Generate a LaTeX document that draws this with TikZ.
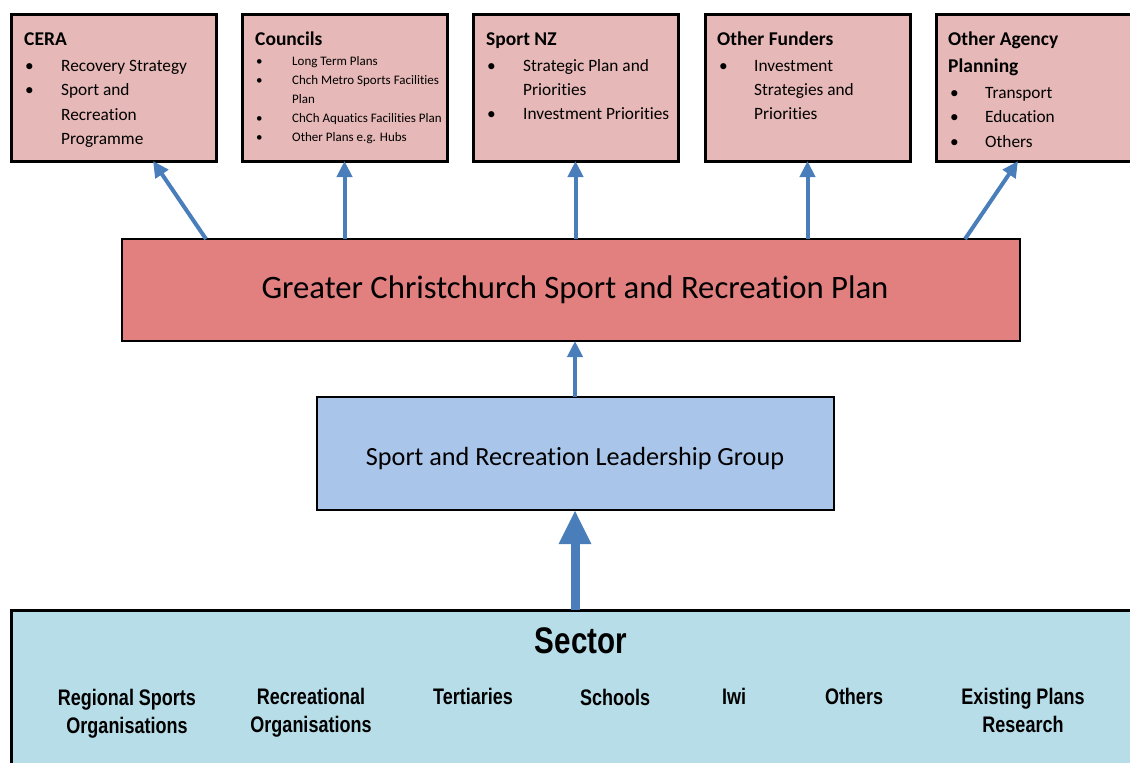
\documentclass[tikz,border=0pt]{standalone}
\usepackage{fontspec}
\setmainfont{Carlito}[Ligatures={NoCommon,NoContextual,NoRare,NoRequired}, RawFeature=-liga, RawFeature=-calt]
\newfontfamily\sectorfont{Liberation Sans}[FakeStretch=0.8]
\usetikzlibrary{arrows.meta}
\definecolor{toppink}{HTML}{E6B8B7}
\definecolor{planred}{HTML}{E27F7F}
\definecolor{leadblue}{HTML}{A9C5EA}
\definecolor{sectblue}{HTML}{B7DDE8}
\definecolor{arrblue}{HTML}{4A7EBB}
\tikzset{
  topbox/.style={draw=black, line width=3pt, fill=toppink, minimum width=205pt, minimum height=147pt, inner sep=0pt, outer sep=0pt, anchor=north west},
  bigbox/.style={draw=black, line width=2.5pt, inner sep=0pt, outer sep=0pt, anchor=north west},
  ttl/.style={anchor=base west, inner sep=0pt, font=\fontsize{19.5}{22}\selectfont\bfseries},
  itm/.style={anchor=base west, inner sep=0pt, font=\fontsize{17.3}{20}\selectfont},
  sitm/.style={anchor=base west, inner sep=0pt, font=\fontsize{13}{15}\selectfont},
  sect/.style={inner sep=0pt, align=center, font=\sectorfont\bfseries\fontsize{22.5}{28}\selectfont},
  arr/.style={draw=arrblue, line width=4pt, -{Triangle[length=16pt,width=15pt]}},
  bigarr/.style={draw=arrblue, line width=9pt, -{Triangle[length=34pt,width=30pt]}}
}
\begin{document}
\begin{tikzpicture}[x=1pt,y=-1pt]
\useasboundingbox (0,0) rectangle (1130,763);
% top boxes
\node[topbox] (cera) at (11,14) {};
\node[topbox] (coun) at (242,14) {};
\node[topbox] (snz) at (473,14) {};
\node[topbox] (fund) at (705,14) {};
\node[topbox, minimum width=210pt] (agen) at (936,14) {};
% CERA
\node[ttl] (t1) at (24,45) {CERA};
\node[itm] (c1b) at (25,71) {•};
\node[itm] (c1) at (61,71) {Recovery Strategy};
\node[itm] (c2b) at (25,95) {•};
\node[itm] (c2) at (61,95) {Sport and};
\node[itm] (c3) at (61,120) {Recreation};
\node[itm] (c4) at (61,144) {Programme};
% Councils
\node[ttl] (t2) at (255,45) {Councils};
\node[sitm] (k1b) at (256,65) {•};
\node[sitm] (k1) at (292,65) {Long Term Plans};
\node[sitm] (k2b) at (256,84) {•};
\node[sitm] (k2) at (292,84) {Chch Metro Sports Facilities};
\node[sitm] (k3) at (292,103) {Plan};
\node[sitm] (k4b) at (256,122) {•};
\node[sitm] (k4) at (292,122) {ChCh Aquatics Facilities Plan};
\node[sitm] (k5b) at (256,141) {•};
\node[sitm] (k5) at (292,141) {Other Plans e.g. Hubs};
% Sport NZ
\node[ttl] (t3) at (486,45) {Sport NZ};
\node[itm] (s1b) at (487,71) {•};
\node[itm] (s1) at (523,71) {Strategic Plan and};
\node[itm] (s2) at (523,95) {Priorities};
\node[itm] (s3b) at (487,119) {•};
\node[itm] (s3) at (523,119) {Investment Priorities};
% Other Funders
\node[ttl] (t4) at (717,45) {Other Funders};
\node[itm] (f1b) at (719,71) {•};
\node[itm] (f1) at (754,71) {Investment};
\node[itm] (f2) at (754,95) {Strategies and};
\node[itm] (f3) at (754,119) {Priorities};
% Other Agency
\node[ttl] (t5) at (948,45) {Other Agency};
\node[ttl] (t5b) at (948,72) {Planning};
\node[itm] (a1b) at (950,98) {•};
\node[itm] (a1) at (985,98) {Transport};
\node[itm] (a2b) at (950,122) {•};
\node[itm] (a2) at (985,122) {Education};
\node[itm] (a3b) at (950,147) {•};
\node[itm] (a3) at (985,147) {Others};
% plan box
\node[bigbox, fill=planred, minimum width=898pt, minimum height=102pt] (plan) at (122,239) {};
\node[inner sep=0pt, font=\fontsize{32.7}{38}\selectfont] (plant) at (575,290) {Greater Christchurch Sport and Recreation Plan};
% leadership
\node[bigbox, fill=leadblue, minimum width=517pt, minimum height=113pt] (lead) at (317,397) {};
\node[inner sep=0pt, font=\fontsize{26.2}{30}\selectfont] (leadt) at (575,459) {Sport and Recreation Leadership Group};
% sector
\node[bigbox, line width=3pt, fill=sectblue, minimum width=1130pt, minimum height=160pt] (sect) at (11,610) {};
\node[sect, font=\sectorfont\bfseries\fontsize{37}{40}\selectfont] (sectt) at (581,641) {Sector};
\node[sect, anchor=north] (r1) at (127,689) {Regional Sports\\Organisations};
\node[sect, anchor=north] (r2) at (311,688) {Recreational\\Organisations};
\node[sect, anchor=north] (r3) at (473,688) {Tertiaries};
\node[sect, anchor=north] (r4) at (615,689) {Schools};
\node[sect, anchor=north] (r5) at (734,688) {Iwi};
\node[sect, anchor=north] (r6) at (854,688) {Others};
\node[sect, anchor=north] (r7) at (1023,688) {Existing Plans\\Research};
% arrows
\coordinate (p1) at (206,239);
\coordinate (p5) at (965,239);
\draw[arr] (p1) -- ([xshift=39.5pt]cera.south);
\draw[arr] (plan.north -| coun.south) -- (coun.south);
\draw[arr] (plan.north -| snz.south) -- (snz.south);
\draw[arr] (plan.north -| fund.south) -- (fund.south);
\draw[arr] (p5) -- ([xshift=-23pt]agen.south);
\draw[arr] (lead.north -| plant.south) -- (plan.south -| plant.south);
\draw[bigarr] (sect.north -| plant.south) -- (lead.south -| plant.south);
\end{tikzpicture}
\end{document}
